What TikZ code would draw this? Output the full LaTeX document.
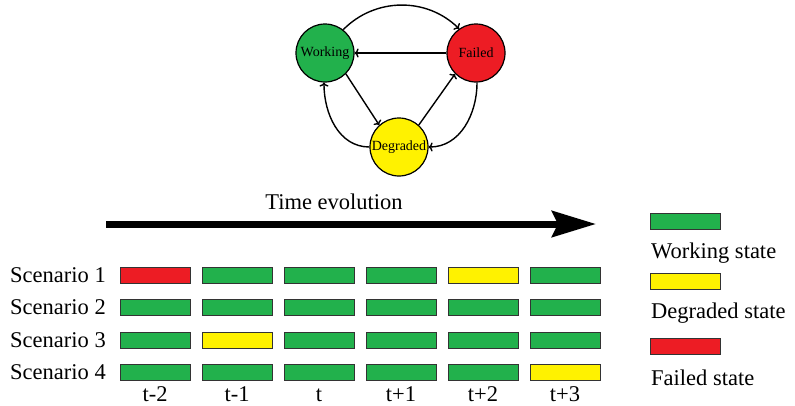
\documentclass[tikz,border=0pt]{standalone}
\usepackage{fontspec}
\setmainfont{LiberationSerif}[Extension=.ttf, UprightFont=*-Regular, BoldFont=*-Bold, ItalicFont=*-Italic]
\usetikzlibrary{arrows.meta}
\definecolor{wgreen}{HTML}{22B14C}
\definecolor{dyellow}{HTML}{FFF200}
\definecolor{fred}{HTML}{ED1C24}
\tikzset{
  statenode/.style={circle, draw=black, line width=1.2pt, minimum size=58pt, inner sep=0pt, font=\fontsize{14}{16}\selectfont},
  trans/.style={line width=1.4pt, -{To[length=4pt,width=9pt]}},
  bar/.style={rectangle, draw=black!80, line width=1pt, minimum width=70pt, minimum height=16pt, inner sep=0pt},
  big/.style={font=\fontsize{22.5}{27}\selectfont, inner sep=0pt},
}
\begin{document}
\begin{tikzpicture}[x=1pt,y=-1pt]
\useasboundingbox (0,0) rectangle (795,405);
% state diagram
\node[statenode, fill=wgreen] (W) at (325,53) {Working};
\node[statenode, fill=fred] (F) at (476,53) {Failed};
\node[statenode, fill=dyellow] (D) at (399,147) {Degraded};
\draw[trans] (W.52) to[bend left=45] (F.125);
\draw[trans] (F.west) -- (W.east);
\draw[trans] (W.-45) -- (D.132);
\draw[trans] (D.48) -- (F.-135);
\draw[trans] (D.180) to[out=180,in=-90] (W.-92);
\draw[trans] (F.-88) to[out=-90,in=0] (D.0);
% time arrow
\node[big, anchor=base] (te) at (334,209) {Time evolution};
\coordinate (ta) at (106,224);
\coordinate (tb) at (596,224);
\draw[line width=7pt, -{Stealth[length=44pt,width=26pt,inset=6pt]}] (ta) -- (tb);
% scenario labels
\foreach \r/\y in {1/275,2/307,3/340,4/372}{
  \node[big, anchor=base east] (s\r) at (106,\y+7) {Scenario \r};
}
% bars
\foreach \r/\y/\cols in {1/275/{fred,wgreen,wgreen,wgreen,dyellow,wgreen},
                         2/307/{wgreen,wgreen,wgreen,wgreen,wgreen,wgreen},
                         3/340/{wgreen,dyellow,wgreen,wgreen,wgreen,wgreen},
                         4/372/{wgreen,wgreen,wgreen,wgreen,wgreen,dyellow}}{
  \foreach \c [count=\i from 0] in \cols {
    \node[bar, fill=\c] (b\r\i) at (155+82*\i,\y) {};
  }
}
% time labels
\foreach \lab [count=\i from 0] in {t-2,t-1,t,t+1,t+2,t+3}{
  \node[big, anchor=base] (l\i) at (155+82*\i,401) {\lab};
}
% legend
\node[bar, fill=wgreen] (lg1) at (685,221) {};
\node[big, anchor=base west] (lt1) at (651,258) {Working state};
\node[bar, fill=dyellow] (lg2) at (685,281) {};
\node[big, anchor=base west] (lt2) at (651,318) {Degraded state};
\node[bar, fill=fred] (lg3) at (685,346) {};
\node[big, anchor=base west] (lt3) at (651,385) {Failed state};
\end{tikzpicture}
\end{document}
